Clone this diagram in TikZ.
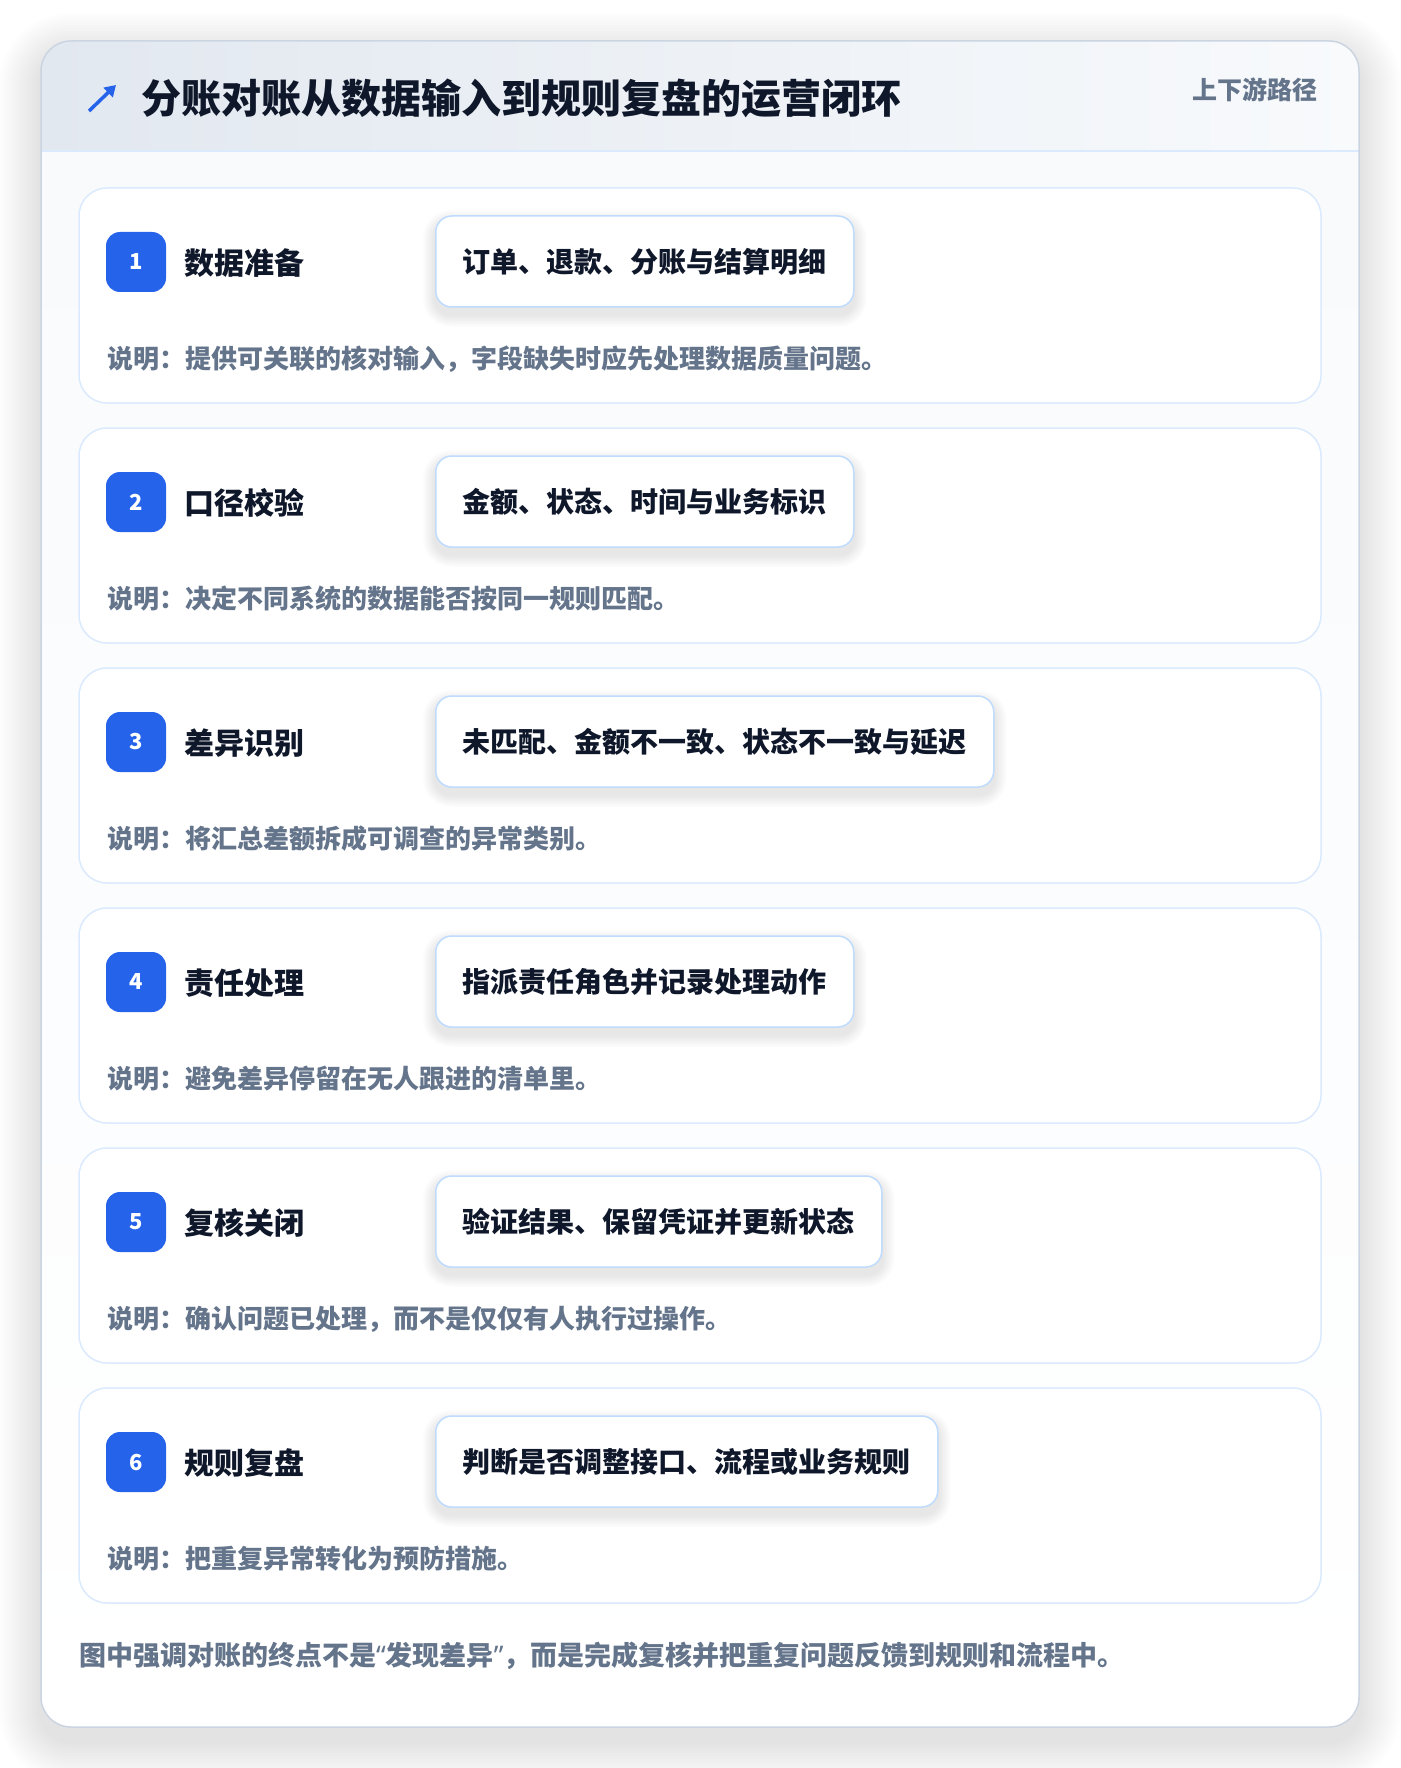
\documentclass[tikz,border=0pt]{standalone}
\usepackage{fontspec}
\setmainfont{Noto Sans CJK SC}
\newfontfamily\quotefont{Noto Sans}
\usetikzlibrary{arrows.meta}
\definecolor{ink}{HTML}{0F172A}
\definecolor{muted}{HTML}{64748B}
\definecolor{accent}{HTML}{2563EB}
\definecolor{edge}{HTML}{CBD5E1}
\definecolor{cardedge}{HTML}{DBEAFE}
\definecolor{pilledge}{HTML}{BFDBFE}
\definecolor{headl}{HTML}{E2E8F0}
\definecolor{headr}{HTML}{F8FAFC}
\pgfdeclarelayer{back}
\pgfdeclarelayer{glow}
\pgfsetlayers{back,glow,main}

\begin{document}
\begin{tikzpicture}[x=1pt,y=-1pt,
  card/.style={draw=cardedge,line width=1.5pt,fill=white,rounded corners=28pt},
  badge/.style={fill=accent,rounded corners=14pt,minimum size=60pt,inner sep=0pt,
    text=white,font=\bfseries\fontsize{22}{22}\selectfont},
  steptitle/.style={anchor=west,inner sep=0pt,text=ink,font=\bfseries\fontsize{30}{30}\selectfont},
  pill/.style={anchor=west,draw=pilledge,line width=1.5pt,fill=white,rounded corners=16pt,
    minimum height=91pt,inner xsep=27pt,text=ink,font=\bfseries\fontsize{28}{28}\selectfont},
  note/.style={anchor=west,inner sep=0pt,text=muted,font=\bfseries\fontsize{26}{26}\selectfont},
  haze/.style={black,opacity=0.006}]
\begin{pgfonlayer}{back}
\useasboundingbox[fill=white] (0,0) rectangle (1400,1768);

% soft shadow of the panel
\foreach \s in {1,...,14}
  \fill[haze,rounded corners=30+\s*3] (41-\s*3,41-\s*3+14) rectangle (1359+\s*3,1727+\s*3+14);

% outer panel
\fill[white,rounded corners=30pt] (41,41) rectangle (1359,1727);
\begin{scope}
  \clip[rounded corners=30pt] (41,41) rectangle (1359,1727);
  \shade[top color=headr,bottom color=white] (41,151) rectangle (1359,1727);
  \shade[left color=headl,right color=headr] (41,41) rectangle (1359,151);
  \draw[cardedge,line width=2pt] (41,151) -- (1359,151);
\end{scope}
\draw[edge,line width=1.5pt,rounded corners=30pt] (41,41) rectangle (1359,1727);
\end{pgfonlayer}

% header
\coordinate (tail) at (89,111);
\coordinate (head) at (116,85);
\draw[accent,line width=3.5pt,-{Triangle[length=11pt,width=13pt]}] (tail) -- (head);
\node[anchor=west,inner sep=0pt,text=ink,font=\bfseries\fontsize{40}{40}\selectfont] (title)
  at (141,98) {分账对账从数据输入到规则复盘的运营闭环};
\node[anchor=east,inner sep=0pt,text=muted,font=\bfseries\fontsize{25}{25}\selectfont] (path)
  at (1318,90) {上下游路径};

% steps
\foreach \n/\t/\p/\d in {
  1/数据准备/订单、退款、分账与结算明细/提供可关联的核对输入，字段缺失时应先处理数据质量问题。,
  2/口径校验/金额、状态、时间与业务标识/决定不同系统的数据能否按同一规则匹配。,
  3/差异识别/未匹配、金额不一致、状态不一致与延迟/将汇总差额拆成可调查的异常类别。,
  4/责任处理/指派责任角色并记录处理动作/避免差异停留在无人跟进的清单里。,
  5/复核关闭/验证结果、保留凭证并更新状态/确认问题已处理，而不是仅仅有人执行过操作。,
  6/规则复盘/判断是否调整接口、流程或业务规则/把重复异常转化为预防措施。}{
  \pgfmathsetmacro\cy{188+(\n-1)*240}
  \begin{pgfonlayer}{back}
    \draw[card] (79,\cy) rectangle (1321,\cy+215);
  \end{pgfonlayer}
  \node[badge] (badge\n) at (136,\cy+74) {\n};
  \node[steptitle] (name\n) at (184,\cy+75) {\t};
  \node[pill] (pill\n) at (435,\cy+73.5) {\p};
  \node[note] (note\n) at (107,\cy+171) {说明：\d};
  \begin{pgfonlayer}{glow}
    \foreach \s in {1,...,8}
      \fill[haze,opacity=0.01,rounded corners=16+\s*1.5]
        ([xshift=-\s*1.5pt,yshift=\s*1.5pt-7pt]pill\n.north west) rectangle
        ([xshift=\s*1.5pt,yshift=-\s*1.5pt-7pt]pill\n.south east);
  \end{pgfonlayer}
}

% footer
\node[note,font=\bfseries\fontsize{27}{27}\selectfont] (foot) at (79,1656)
  {图中强调对账的终点不是{\quotefont “}发现差异{\quotefont ”}，而是完成复核并把重复问题反馈到规则和流程中。};
\end{tikzpicture}
\end{document}
